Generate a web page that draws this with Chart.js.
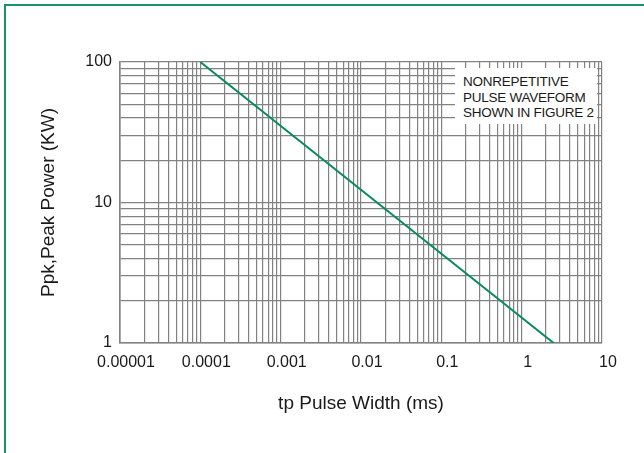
<!DOCTYPE html>
<html>
<head>
<meta charset="utf-8">
<script src="https://cdn.jsdelivr.net/npm/chart.js@4.4.1/dist/chart.umd.min.js"></script>
<style>
  html, body { margin: 0; padding: 0; background: #fff; }
  #wrap { position: relative; width: 644px; height: 453px; overflow: hidden; }
  #frame { position: absolute; left: 4px; top: 4px; width: 700px; height: 500px;
    border-top: 2px solid #179565; border-left: 2px solid #179565; }
  canvas { position: absolute; left: 0; top: 0; }
  #note { position: absolute; left: 455px; top: 68px; width: 142px; height: 56px;
    background: #fff; box-sizing: border-box; padding: 6px 0 0 8px;
    font: 13.5px "Liberation Sans", Arial, sans-serif; letter-spacing: -0.25px;
    line-height: 15.5px; color: #1a1a1a; }
</style>
</head>
<body>
<div id="wrap">
  <div id="frame"></div>
  <canvas id="chart" width="644" height="453"></canvas>
  <div id="note">NONREPETITIVE<br>PULSE WAVEFORM<br>SHOWN IN FIGURE 2</div>
</div>
<script>
// data (log-log straight line)
const pulseWidth = [0.0001, 2.5];   // ms
const peakPower = [100, 1];         // KW

const xTickLabels = ["0.00001", "0.0001", "0.001", "0.01", "0.1", "1", "10"];
const yTickLabels = ["1", "10", "100"];

const xMin = 0.00001, xMax = 10;
const yMin = 1, yMax = 100;

const gridColor = "#828282";
const textColor = "#1a1a1a";
const font = "'Liberation Sans', Arial, sans-serif";

// gridline at every 1..9 multiple of each decade
function decadeTicks(labels) {
  const ticks = [];
  const first = Math.round(Math.log10(Number(labels[0])));
  for (let d = 0; d < labels.length; d++) {
    const base = Math.pow(10, first + d);
    const last = d === labels.length - 1 ? 1 : 9;
    for (let m = 1; m <= last; m++) {
      ticks.push({ value: m === 1 ? Number(labels[d]) : m * base });
    }
  }
  return ticks;
}

function labelFor(labels) {
  return function (value) {
    const i = labels.findIndex(l => Math.abs(Number(l) - value) < Number(l) * 1e-9);
    return i >= 0 ? labels[i] : "";
  };
}

const ctx = document.getElementById("chart").getContext("2d");

new Chart(ctx, {
  type: "line",
  data: {
    datasets: [{
      data: pulseWidth.map((x, i) => ({ x: x, y: peakPower[i] })),
      borderColor: "#0b8a5e",
      borderWidth: 2,
      pointRadius: 0,
      fill: false,
      tension: 0,
    }],
  },
  options: {
    responsive: false,
    animation: false,
    layout: { padding: { left: 0, right: 42, top: 62, bottom: 0 } },
    plugins: { legend: { display: false }, tooltip: { enabled: false } },
    scales: {
      x: {
        type: "logarithmic",
        min: xMin,
        max: xMax,
        afterBuildTicks: scale => { scale.ticks = decadeTicks(xTickLabels); },
        afterFit: scale => { scale.height = 110; },
        grid: { color: gridColor, lineWidth: 1.2, drawTicks: false },
        border: { color: gridColor, width: 1.6 },
        ticks: {
          autoSkip: false,
          maxRotation: 0,
          minRotation: 0,
          padding: 10,
          labelOffset: 6,
          color: textColor,
          font: { family: font, size: 16 },
          callback: labelFor(xTickLabels),
        },
        title: {
          display: true,
          text: "tp Pulse Width (ms)",
          color: textColor,
          font: { family: font, size: 19 },
          padding: { top: 0, bottom: 38 },
        },
      },
      y: {
        type: "logarithmic",
        min: yMin,
        max: yMax,
        afterBuildTicks: scale => { scale.ticks = decadeTicks(yTickLabels); },
        afterFit: scale => { scale.width = 120; },
        grid: { color: gridColor, lineWidth: 1.2, drawTicks: false },
        border: { color: gridColor, width: 1.6 },
        ticks: {
          autoSkip: false,
          padding: 8,
          color: textColor,
          font: { family: font, size: 16 },
          callback: labelFor(yTickLabels),
        },
        title: {
          display: true,
          text: "Ppk,Peak Power (KW)",
          color: textColor,
          font: { family: font, size: 19 },
          padding: { top: 37, bottom: 0 },
        },
      },
    },
  },
});
</script>
</body>
</html>
